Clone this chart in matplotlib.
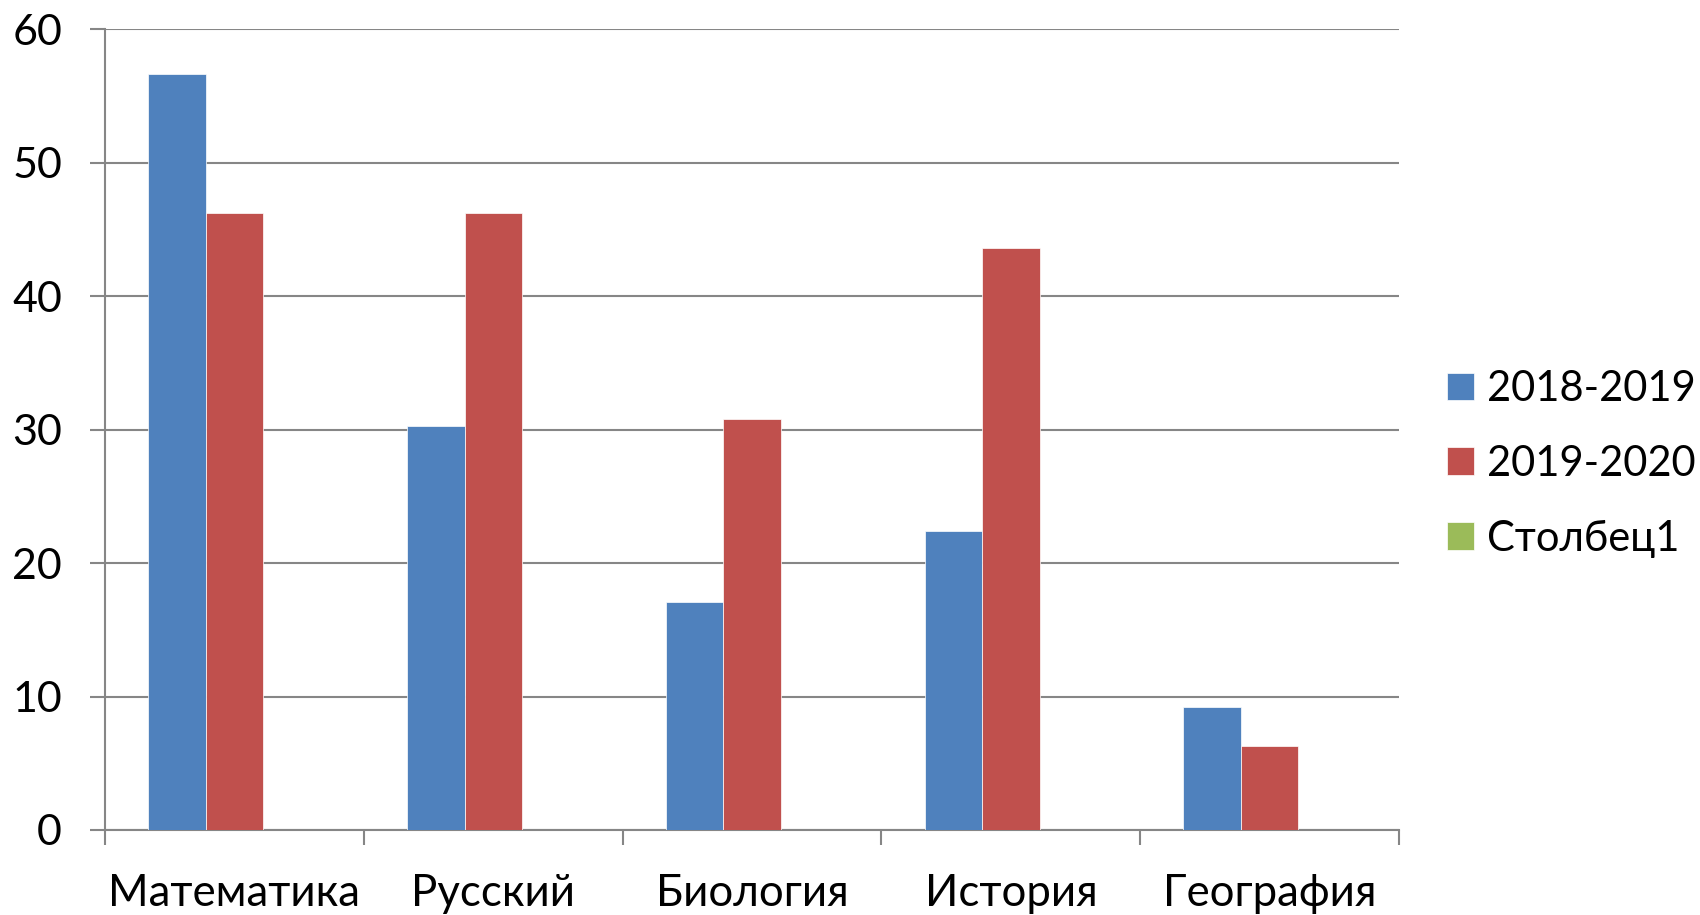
import matplotlib
matplotlib.use("Agg")
import matplotlib.pyplot as plt
import numpy as np

# --- data ---
subjects = ["Математика", "Русский", "Биология", "История", "География"]
y2018_2019 = [56.6, 30.3, 17.1, 22.4, 9.2]
y2019_2020 = [46.2, 46.2, 30.8, 43.6, 6.3]
stolbec1 = [0, 0, 0, 0, 0]
series_names = ["2018-2019", "2019-2020", "Столбец1"]
colors = ["#4F81BD", "#C0504D", "#9BBB59"]
yticks = [0, 10, 20, 30, 40, 50, 60]

plt.rcParams["font.family"] = ["Lato", "DejaVu Sans"]
GRAY = "#868686"

fig = plt.figure(figsize=(17, 9.15), dpi=100)
ax = fig.add_axes([0.0618, 0.0929, 0.7612, 0.8753])

x = np.arange(len(subjects))
w = 2 / 9
handles = []
for i, (vals, name, c) in enumerate(zip([y2018_2019, y2019_2020, stolbec1], series_names, colors)):
    b = ax.bar(x + (i - 1) * w, vals, width=w, color=c, label=name, zorder=3,
               edgecolor="white", linewidth=0.5)
    handles.append(b)

ax.set_xlim(-0.5, len(subjects) - 0.5)
ax.set_ylim(0, 60)
ax.set_yticks(yticks)
ax.yaxis.grid(True, color=GRAY, linewidth=1.5, zorder=0)
ax.set_axisbelow(True)

# category boundaries as major ticks, labels on minor ticks
ax.set_xticks(np.arange(-0.5, len(subjects), 1.0))
ax.set_xticklabels([])
ax.set_xticks(x, minor=True)
ax.set_xticklabels(subjects, minor=True)
ax.tick_params(axis="x", which="major", length=11, width=1.5, color=GRAY, direction="out")
ax.tick_params(axis="x", which="minor", length=0, pad=31, labelsize=31.5)
ax.tick_params(axis="y", length=11, width=1.5, color=GRAY, direction="out", pad=20, labelsize=31)

for s in ["top", "right"]:
    ax.spines[s].set_visible(False)
for s in ["left", "bottom"]:
    ax.spines[s].set_color(GRAY)
    ax.spines[s].set_linewidth(1.5)

ax.legend(handles=handles, loc="center left", bbox_to_anchor=(0.851, 0.493),
          bbox_transform=fig.transFigure, frameon=False, fontsize=30,
          handlelength=0.65, handleheight=0.65, handletextpad=0.32,
          labelspacing=0.88, borderaxespad=0, borderpad=0)

plt.savefig("out.png", dpi=100)
